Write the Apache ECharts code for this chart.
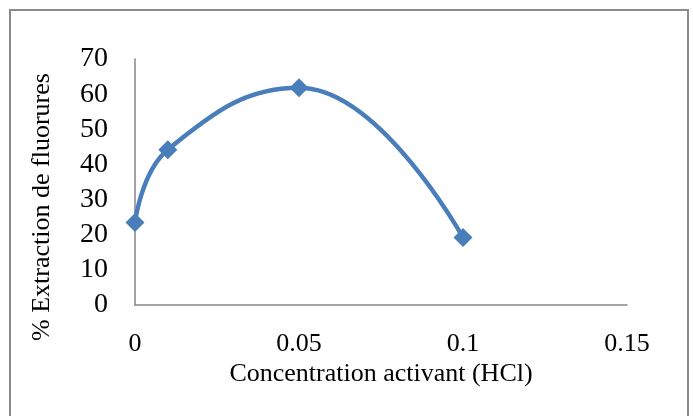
<!DOCTYPE html>
<html>
<head>
<meta charset="utf-8">
<script src="https://cdn.jsdelivr.net/npm/echarts@6/dist/echarts.min.js"></script>
<style>
  html, body { margin: 0; padding: 0; background: #fff; }
  #box { width: 693px; height: 416px; }
</style>
</head>
<body>
<div id="box"></div>
<script>
// données
var concentrations = [0, 0.01, 0.05, 0.1];
var extraction = [23.5, 44.2, 61.8, 19.2];
var xTicks = [0, 0.05, 0.1, 0.15];
var yTicks = [0, 10, 20, 30, 40, 50, 60, 70];

var points = concentrations.map(function (c, i) { return [c, extraction[i]]; });

var myChart = echarts.init(document.getElementById('box'));
var option = {
    animation: false,
    grid: { left: 135, top: 59, right: 66, bottom: 111 },
    graphic: [
        {
            type: 'rect',
            shape: { x: 10, y: 10, width: 678, height: 420 },
            style: { fill: 'none', stroke: '#8a8a8a', lineWidth: 2 },
            z: -1
        },
        {
            type: 'text',
            x: 42, y: 207,
            rotation: Math.PI / 2,
            style: {
                text: '% Extraction de fluorures',
                font: '26px "Liberation Serif"',
                fill: '#000',
                align: 'center',
                verticalAlign: 'middle'
            }
        },
        {
            type: 'text',
            x: 381, y: 374,
            style: {
                text: 'Concentration activant (HCl)',
                font: '26px "Liberation Serif"',
                fill: '#000',
                align: 'center',
                verticalAlign: 'middle'
            }
        }
    ],
    xAxis: {
        type: 'value',
        min: xTicks[0],
        max: xTicks[xTicks.length - 1],
        interval: 0.05,
        axisLine: { show: true, lineStyle: { color: '#868686', width: 1.5 } },
        axisTick: { show: false },
        splitLine: { show: false },
        axisLabel: {
            margin: 26,
            fontFamily: 'Liberation Serif', fontSize: 26, color: '#000',
            formatter: function (v) { return String(v); }
        }
    },
    yAxis: {
        type: 'value',
        min: yTicks[0],
        max: yTicks[yTicks.length - 1],
        interval: 10,
        axisLine: { show: true, lineStyle: { color: '#868686', width: 1.5 } },
        axisTick: { show: false },
        splitLine: { show: false },
        axisLabel: {
            margin: 27,
            fontFamily: 'Liberation Serif', fontSize: 28, color: '#000'
        }
    },
    series: [
        {
            type: 'line',
            data: points,
            smooth: 0.45,
            symbol: 'diamond',
            symbolSize: 19,
            itemStyle: { color: '#4a7ebb' },
            lineStyle: { color: '#4a7ebb', width: 4.5 }
        }
    ]
};
myChart.setOption(option);
</script>
</body>
</html>
